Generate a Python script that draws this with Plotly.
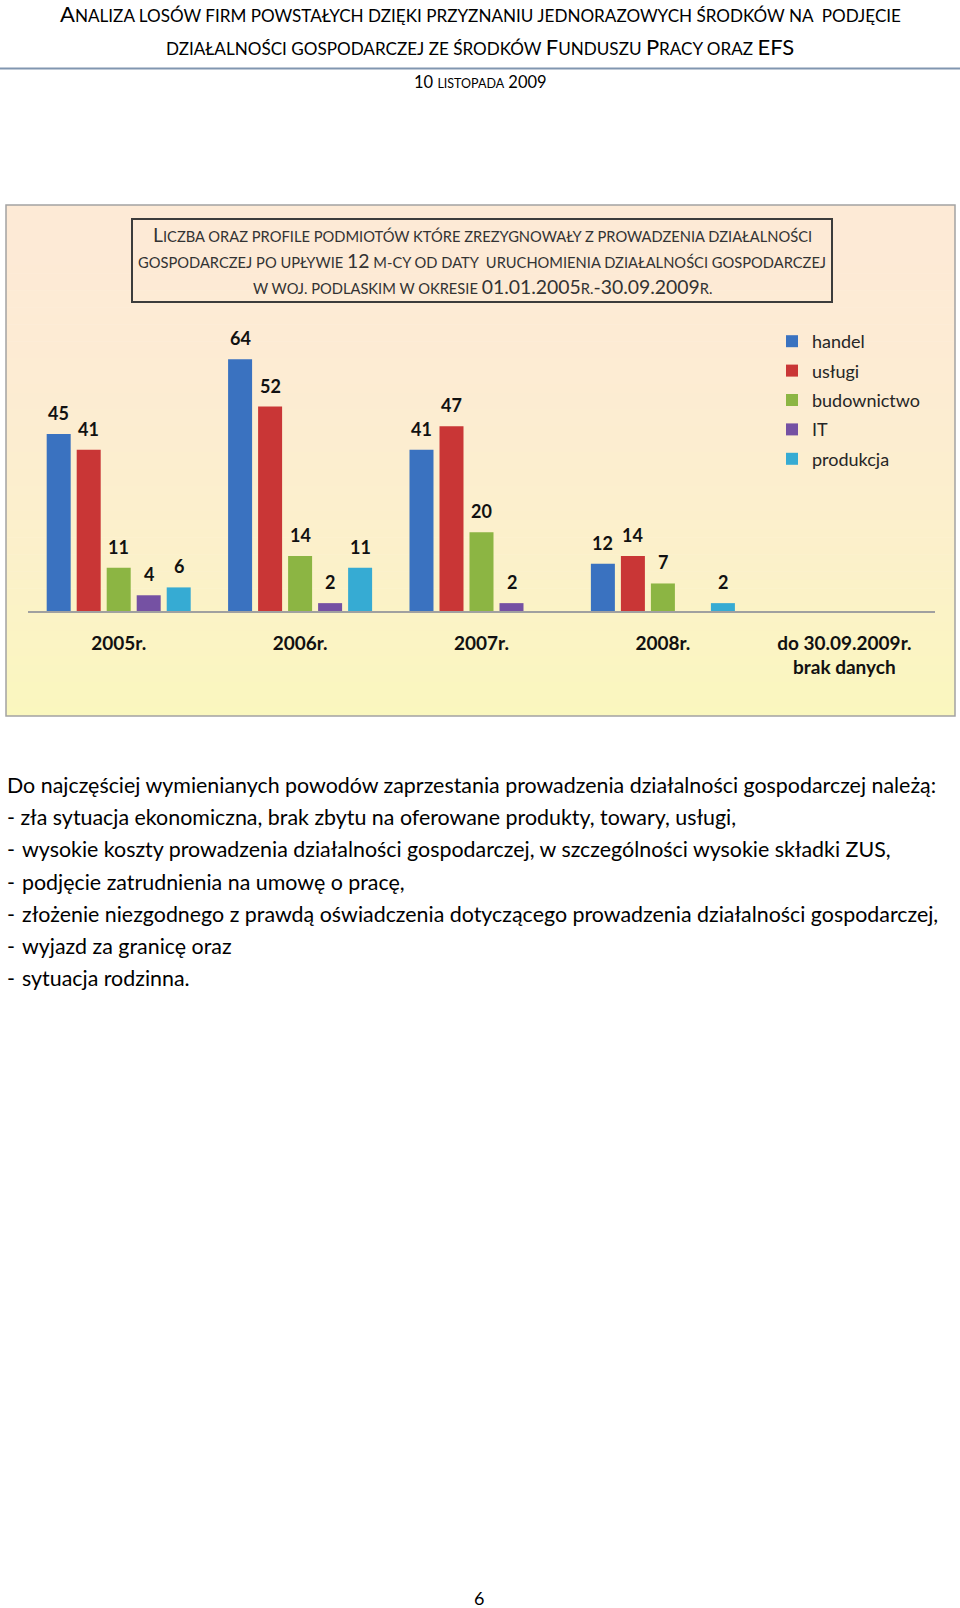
import plotly.graph_objects as go

# ---------------- data ----------------
categories = ["2005r.", "2006r.", "2007r.", "2008r.", "do 30.09.2009r.<br>brak danych"]
series_names = ["handel", "usługi", "budownictwo", "IT", "produkcja"]
handel = [45, 64, 41, 12, None]
uslugi = [41, 52, 47, 14, None]
budownictwo = [11, 14, 20, 7, None]
it_values = [4, 2, 2, None, None]
produkcja = [6, 11, None, 2, None]
series_values = [handel, uslugi, budownictwo, it_values, produkcja]

body_first = "Do najczęściej wymienianych powodów zaprzestania prowadzenia działalności gospodarczej należą:"
body_second = "- zła sytuacja ekonomiczna, brak zbytu na oferowane produkty, towary, usługi,"
body_bullets = [
    "wysokie koszty prowadzenia działalności gospodarczej, w szczególności wysokie składki ZUS,",
    "podjęcie zatrudnienia na umowę o pracę,",
    "złożenie niezgodnego z prawdą oświadczenia dotyczącego prowadzenia działalności gospodarczej,",
    "wyjazd za granicę oraz",
    "sytuacja rodzinna.",
]
page_number = "6"

# ---------------- style ----------------
W, H = 960, 1608
FONT = "Lato, 'Liberation Sans', Arial, sans-serif"
colors = ["#3A72C0", "#C93636", "#8CB543", "#7551A3", "#36ABD3"]


def px(x):
    return x / W


def py(y):
    return 1 - y / H


def smallcaps(segments, big, small):
    out = []
    for txt, is_big in segments:
        size = big if is_big else small
        out.append('<span style="font-size:%spx">%s</span>' % (size, txt))
    return "".join(out)


fig = go.Figure()

for name, vals, col in zip(series_names, series_values, colors):
    fig.add_trace(go.Bar(
        x=categories, y=vals, name=name, marker=dict(color=col, line=dict(width=0)),
        legendgroup=name, hoverinfo="skip",
    ))

annotations = []
# value labels above bars
n = len(series_names)
for i, vals in enumerate(series_values):
    for cat, v in zip(categories, vals):
        if v is None:
            continue
        annotations.append(dict(
            x=cat, y=v, xref="x", yref="y", xshift=(i - (n - 1) / 2) * 30, yshift=21,
            text="<b>%d</b>" % v, showarrow=False, yanchor="middle",
            font=dict(family=FONT, size=18, color="#111111"),
        ))

# page header
header_lines = [
    ([("A", True), ("NALIZA LOSÓW FIRM POWSTAŁYCH DZIĘKI PRZYZNANIU JEDNORAZOWYCH ŚRODKÓW NA  PODJĘCIE", False)], 13, 22, 17.1),
    ([("DZIAŁALNOŚCI GOSPODARCZEJ ZE ŚRODKÓW ", False), ("F", True), ("UNDUSZU ", False), ("P", True),
      ("RACY ORAZ ", False), ("EFS", True)], 47, 22, 17.1),
    ([("10 ", True), ("LISTOPADA", False), (" 2009", True)], 82, 16.5, 12.5),
]
for segs, yy, big, small in header_lines:
    annotations.append(dict(
        x=px(480), y=py(yy), xref="paper", yref="paper", showarrow=False,
        xanchor="center", yanchor="middle", text=smallcaps(segs, big, small),
        font=dict(family=FONT, size=small, color="#000000"),
    ))

# chart title (inside box)
title_lines = [
    ([("L", True), ("ICZBA ORAZ PROFILE PODMIOTÓW KTÓRE ZREZYGNOWAŁY Z PROWADZENIA DZIAŁALNOŚCI", False)], 235),
    ([("GOSPODARCZEJ PO UPŁYWIE ", False), ("12", True),
      (" M-CY OD DATY  URUCHOMIENIA DZIAŁALNOŚCI GOSPODARCZEJ", False)], 260.5),
    ([("W WOJ. PODLASKIM W OKRESIE ", False), ("01.01.2005", True), ("R.", False),
      ("-30.09.2009", True), ("R.", False)], 286),
]
for segs, yy in title_lines:
    annotations.append(dict(
        x=px(482), y=py(yy), xref="paper", yref="paper", showarrow=False,
        xanchor="center", yanchor="middle", text=smallcaps(segs, 19.4, 14.7),
        font=dict(family=FONT, size=14.7, color="#333333"),
    ))

# body text
BODY = 21.4
body_y0, body_dy = 784.6, 32.3
annotations.append(dict(x=px(5), y=py(body_y0), xref="paper", yref="paper", showarrow=False,
                        xanchor="left", yanchor="middle", text=body_first,
                        font=dict(family=FONT, size=BODY, color="#000000")))
annotations.append(dict(x=px(5), y=py(body_y0 + body_dy), xref="paper", yref="paper", showarrow=False,
                        xanchor="left", yanchor="middle", text=body_second,
                        font=dict(family=FONT, size=BODY, color="#000000")))
for k, line in enumerate(body_bullets):
    yy = body_y0 + body_dy * (k + 2)
    annotations.append(dict(x=px(5), y=py(yy), xref="paper", yref="paper", showarrow=False,
                            xanchor="left", yanchor="middle", text="-",
                            font=dict(family=FONT, size=BODY, color="#000000")))
    annotations.append(dict(x=px(19.5), y=py(yy), xref="paper", yref="paper", showarrow=False,
                            xanchor="left", yanchor="middle", text=line,
                            font=dict(family=FONT, size=BODY, color="#000000")))

annotations.append(dict(x=px(479), y=py(1598), xref="paper", yref="paper", showarrow=False,
                        xanchor="center", yanchor="middle", text=page_number,
                        font=dict(family=FONT, size=18, color="#000000")))

# shapes: header rule, chart frame gradient, title box
shapes = [dict(type="line", xref="paper", yref="paper", x0=0, x1=1, y0=py(68.5), y1=py(68.5),
               line=dict(color="#8196B0", width=2))]

top_c = (253, 234, 214)
bot_c = (250, 247, 190)
y_top, y_bot = 205.0, 716.0
N = 60
for k in range(N):
    t = (k + 0.5) / N
    tt = t ** 1.8
    c = tuple(int(round(a + (b - a) * tt)) for a, b in zip(top_c, bot_c))
    ya = y_top + (y_bot - y_top) * k / N
    yb = y_top + (y_bot - y_top) * (k + 1) / N + 0.6
    shapes.append(dict(type="rect", xref="paper", yref="paper", layer="below",
                       x0=px(6), x1=px(955), y0=py(min(yb, y_bot)), y1=py(ya),
                       fillcolor="rgb(%d,%d,%d)" % c, line=dict(width=0)))
shapes.append(dict(type="rect", xref="paper", yref="paper", layer="below",
                   x0=px(6), x1=px(955), y0=py(716), y1=py(205),
                   line=dict(color="#A3A3A3", width=1.5), fillcolor="rgba(0,0,0,0)"))
shapes.append(dict(type="rect", xref="paper", yref="paper", layer="below",
                   x0=px(132), x1=px(832), y0=py(302), y1=py(219),
                   line=dict(color="#3C3C3C", width=2), fillcolor="rgba(0,0,0,0)"))

fig.update_layout(
    width=W, height=H, margin=dict(l=0, r=0, t=0, b=0),
    paper_bgcolor="#FFFFFF", plot_bgcolor="rgba(0,0,0,0)",
    font=dict(family=FONT, color="#000000"),
    barmode="group", bargap=0.173, bargroupgap=0.2,
    showlegend=True,
    legend=dict(x=px(772), y=py(323), xanchor="left", yanchor="top",
                bgcolor="rgba(0,0,0,0)", borderwidth=0, tracegroupgap=3,
                font=dict(family=FONT, size=18, color="#262626"), traceorder="grouped"),
    xaxis=dict(domain=[px(28), px(935)], type="category", categoryorder="array",
               categoryarray=categories, showline=True, linecolor="#A0A0A0", linewidth=1.5,
               ticks="outside", ticklen=14, tickcolor="rgba(0,0,0,0)", showgrid=False, zeroline=False,
               tickfont=dict(family=FONT, size=19, color="#111111", weight="bold")),
    yaxis=dict(domain=[py(611), py(320)], range=[0, 74], visible=False, showgrid=False, zeroline=False),
    annotations=annotations, shapes=shapes,
)

fig.write_html("out.html", config={"displayModeBar": False},
               post_script="document.body.style.margin='0px';")
